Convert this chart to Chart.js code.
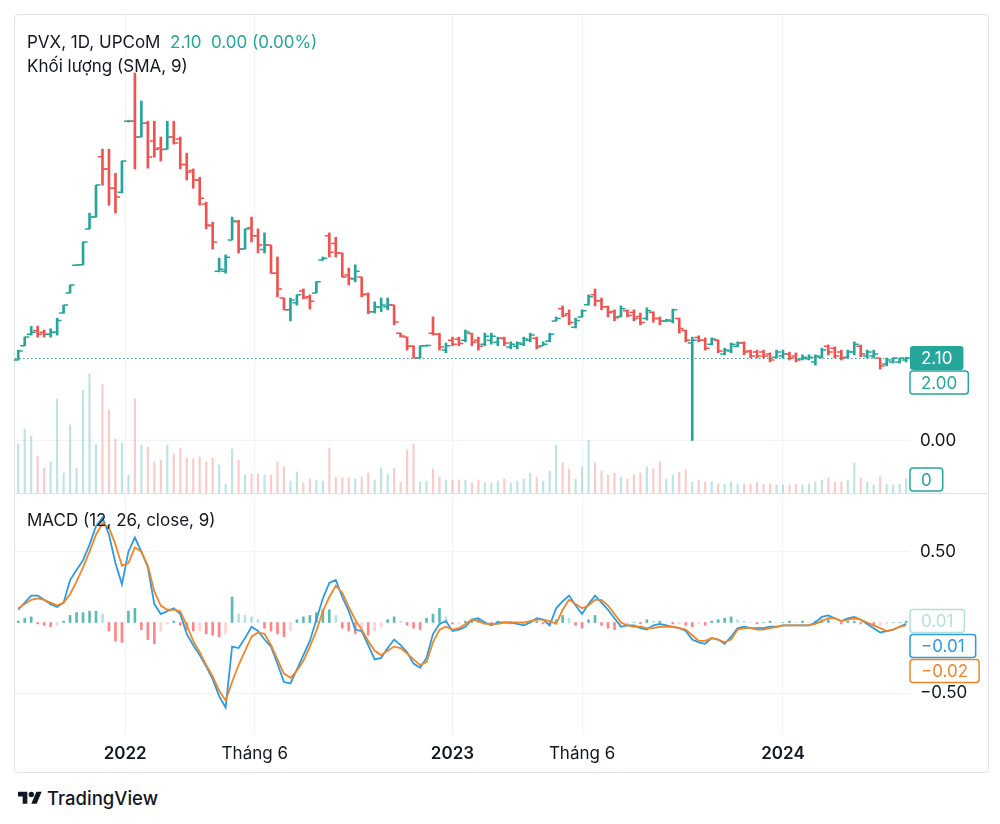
<!DOCTYPE html>
<html>
<head>
<meta charset="utf-8">
<script src="https://cdn.jsdelivr.net/npm/chart.js@4.4.1/dist/chart.umd.min.js"></script>
<style>
  body { margin: 0; background: #fff; width: 1000px; height: 824px; position: relative; overflow: hidden;
         font-family: Inter, "Noto Sans", sans-serif; color: #131722; }
  #frame { position: absolute; left: 14px; top: 14px; width: 973px; height: 757px; border: 1px solid #e0e3eb; border-radius: 4px; }
  canvas { position: absolute; left: 0; }
  #priceChart { top: 0; }
  #macdChart { top: 493px; }
  #sep { position: absolute; left: 15px; top: 493px; width: 973px; height: 1px; background: #e0e3eb; }
  .lbl { position: absolute; font-size: 17px; line-height: 20px; white-space: pre; }
  #logo { position: absolute; left: 18px; top: 787px; display: flex; align-items: center; font-size: 18.5px; font-weight: 500; }
  #logo svg { margin-right: 5px; }
</style>
</head>
<body>
<div id="frame"></div>
<canvas id="priceChart" width="1000" height="493"></canvas>
<div id="sep"></div>
<canvas id="macdChart" width="1000" height="279"></canvas>
<div class="lbl" style="left:27px;top:32px">PVX, 1D, UPCoM  <span id="lastInfo" style="color:#26a69a"></span></div>
<div class="lbl" style="left:27px;top:56px">Khối lượng (SMA, 9)</div>
<div class="lbl" style="left:27px;top:510px">MACD (12, 26, close, 9)</div>
<div id="logo">
  <svg width="24" height="19" viewBox="0 0 36 28"><path d="M14 22H7V11H0V4h14v18zM28 22h-8l7.5-18h8L28 22z" fill="#131722"/><circle cx="20" cy="8" r="4" fill="#131722"/></svg>
  TradingView
</div>
<script>
// time axis labels (bar index where each label sits)
const tickIdx  = [16.5, 36.5, 67, 87, 118];
const tickText = ['2022', 'Tháng 6', '2023', 'Tháng 6', '2024'];
const tickBold = [true, false, true, false, true];

// OHLC, one bar per period
const opens = [
  2.05,2.41,2.70,2.80,2.75,2.70,2.75,3.24,3.75,4.45,
  4.46,5.37,5.67,7.20,6.89,6.40,6.30,8.10,8.10,7.70,
  8.05,7.60,7.42,7.39,7.70,7.65,7.00,6.85,6.61,6.00,
  5.45,4.30,4.30,5.09,5.55,4.86,5.40,5.20,4.85,4.96,
  4.25,3.62,3.32,3.50,3.80,3.65,3.75,4.58,5.20,5.00,
  4.76,4.20,4.10,4.15,3.72,3.27,3.39,3.40,3.44,2.73,
  2.63,2.40,2.10,2.41,2.73,2.70,2.30,2.55,2.58,2.55,
  2.72,2.55,2.45,2.55,2.50,2.60,2.38,2.40,2.45,2.55,
  2.60,2.41,2.53,3.04,3.35,3.22,2.88,3.14,3.45,3.70,
  3.55,3.40,3.28,3.15,3.30,3.25,3.15,3.10,3.25,3.10,
  3.04,3.04,3.10,2.80,2.48,2.62,2.55,2.45,2.55,2.20,
  2.28,2.40,2.48,2.28,2.25,2.25,2.20,2.12,2.15,2.20,
  2.15,2.08,2.08,2.00,2.12,2.40,2.35,2.25,2.12,2.25,
  2.40,2.15,2.15,2.10,1.95,2.00,2.00,2.05
];
const highs = [
  2.30,2.63,2.90,2.91,2.81,2.84,3.11,3.44,3.95,4.46,
  5.04,5.77,6.48,7.39,7.39,6.78,7.09,8.12,9.32,8.61,
  8.10,8.10,7.70,8.10,8.10,7.70,7.29,6.89,6.68,6.05,
  5.54,4.63,4.71,5.67,5.59,5.37,5.67,5.37,5.27,4.96,
  4.66,3.62,3.62,3.70,3.85,3.70,4.03,4.66,5.27,5.16,
  4.76,4.38,4.46,4.15,3.75,3.52,3.62,3.62,3.44,2.73,
  2.63,2.41,2.41,2.43,3.14,2.73,2.48,2.63,2.63,2.81,
  2.73,2.63,2.73,2.73,2.63,2.63,2.51,2.51,2.63,2.73,
  2.63,2.51,2.73,3.14,3.42,3.32,3.11,3.32,3.70,3.85,
  3.62,3.42,3.32,3.42,3.32,3.32,3.24,3.37,3.27,3.14,
  3.08,3.34,3.11,2.81,2.63,2.66,2.61,2.61,2.56,2.35,
  2.48,2.51,2.51,2.30,2.30,2.30,2.23,2.30,2.30,2.25,
  2.23,2.18,2.18,2.18,2.35,2.43,2.38,2.30,2.30,2.51,
  2.43,2.30,2.30,2.10,2.10,2.10,2.10,2.12
];
const lows = [
  2.05,2.41,2.68,2.63,2.63,2.63,2.68,3.24,3.75,4.44,
  4.46,5.37,5.67,6.48,5.97,5.77,6.28,8.08,6.89,7.70,
  6.91,7.19,7.09,7.39,7.52,6.89,6.61,6.40,5.97,5.37,
  4.86,4.28,4.25,5.09,4.76,4.86,5.04,4.76,4.76,4.25,
  3.65,3.32,3.04,3.44,3.60,3.34,3.75,4.58,4.66,4.66,
  4.15,3.95,4.03,3.65,3.22,3.24,3.27,3.32,2.94,2.63,
  2.30,2.10,2.10,2.40,2.68,2.30,2.23,2.41,2.41,2.51,
  2.41,2.30,2.41,2.45,2.41,2.41,2.33,2.33,2.41,2.51,
  2.33,2.41,2.51,3.04,3.14,2.94,2.86,3.14,3.44,3.42,
  3.32,3.14,3.04,3.14,3.14,3.04,2.94,3.06,3.01,2.94,
  3.02,2.99,2.73,2.51,0.00,2.51,2.30,2.43,2.23,2.18,
  2.23,2.38,2.18,2.10,2.10,2.10,2.00,2.10,2.10,2.05,
  2.00,2.05,2.05,1.92,2.10,2.18,2.10,2.05,2.10,2.18,
  2.13,2.10,2.10,1.82,1.90,1.97,1.97,2.00
];
const closes = [
  2.28,2.63,2.75,2.70,2.70,2.75,3.05,3.44,3.95,4.46,
  5.04,5.67,6.48,6.89,6.40,6.18,7.09,8.10,7.70,8.05,
  7.19,7.39,7.38,7.70,7.55,7.00,6.81,6.61,6.15,5.47,
  5.04,4.35,4.65,5.57,4.86,5.37,5.20,4.96,4.96,4.25,
  3.85,3.32,3.57,3.70,3.62,3.54,4.03,4.63,4.78,4.76,
  4.15,4.12,4.30,3.70,3.27,3.39,3.44,3.44,3.01,2.66,
  2.40,2.10,2.41,2.42,2.70,2.38,2.41,2.45,2.47,2.76,
  2.50,2.40,2.65,2.65,2.60,2.48,2.45,2.48,2.58,2.68,
  2.38,2.45,2.70,3.10,3.18,3.00,3.05,3.30,3.65,3.55,
  3.40,3.25,3.12,3.35,3.18,3.10,3.00,3.30,3.10,3.04,
  3.06,3.32,2.85,2.55,2.55,2.55,2.35,2.58,2.28,2.30,
  2.45,2.48,2.25,2.15,2.15,2.15,2.05,2.25,2.20,2.10,
  2.05,2.12,2.12,2.15,2.30,2.25,2.15,2.10,2.25,2.45,
  2.20,2.25,2.20,1.90,2.05,2.10,2.10,2.10
];
// volume, million shares
const volumes = [
  24.5,32,28.5,18.5,12.5,15.5,47,10,34,12.5,
  51.5,59.5,24.5,54.5,41.5,27,25,9,47,24,
  23,15.5,16.5,24,19.5,22.5,17.5,17,18,15.5,
  17.5,14,4.5,22,16.5,9,9.5,9.5,9,9,
  15.5,13,6,10.5,5,7,6.5,6,22.5,8,
  7.5,7.5,7,8,10,6.5,12.5,9.5,12.5,5.5,
  21.5,24.5,5.5,6,12,8,6.5,6.5,6.5,6.5,
  5,6.5,5,5,6,7,5,6,7,10,
  8,6,11,24,15,12,7,13,26.5,15,
  11,9,10,8,7,9,10,13,12,15.5,
  7,9,10.5,11.5,5.5,6.5,5.5,5.5,4.5,4.5,
  5.5,4.5,4.5,4.5,5.5,4.5,4.5,4,4,4,
  4.5,4,4.5,5.5,6.5,7.5,5.5,5.5,6.5,15,
  7.5,5.5,4,8,4.5,4,4.5,7
];
const lastVol = 0;

// MACD (12, 26, close, 9)
const macdLine = [
  0.09,0.14,0.19,0.19,0.16,0.13,0.11,0.14,0.30,0.37,
  0.44,0.55,0.68,0.74,0.62,0.42,0.27,0.50,0.60,0.50,
  0.39,0.13,0.06,0.08,0.10,0.06,-0.08,-0.16,-0.23,-0.31,
  -0.40,-0.52,-0.60,-0.17,-0.18,-0.11,-0.03,-0.06,-0.12,-0.17,
  -0.29,-0.42,-0.43,-0.33,-0.23,-0.13,0.02,0.17,0.28,0.30,
  0.18,0.08,-0.05,-0.06,-0.16,-0.26,-0.25,-0.18,-0.12,-0.16,
  -0.21,-0.29,-0.32,-0.25,-0.08,-0.01,0.01,-0.06,-0.05,-0.03,
  0.02,0.03,0.00,-0.02,0.00,0.00,0.00,-0.01,-0.02,0.00,
  0.03,0.02,-0.02,0.10,0.15,0.19,0.12,0.06,0.13,0.19,
  0.14,0.09,0.03,-0.03,-0.02,-0.02,-0.04,-0.05,-0.02,-0.01,
  -0.02,-0.03,-0.04,-0.06,-0.12,-0.14,-0.15,-0.11,-0.12,-0.15,
  -0.10,-0.04,-0.03,-0.04,-0.04,-0.04,-0.03,-0.03,-0.02,-0.02,
  -0.02,-0.02,-0.02,0.00,0.04,0.05,0.03,0.01,0.03,0.04,
  0.02,-0.01,-0.04,-0.07,-0.06,-0.05,-0.03,-0.01
];
const signalLine = [
  0.10,0.13,0.16,0.17,0.16,0.14,0.12,0.14,0.20,0.29,
  0.39,0.50,0.62,0.70,0.67,0.55,0.40,0.42,0.53,0.50,
  0.40,0.22,0.12,0.09,0.09,0.08,-0.02,-0.13,-0.21,-0.30,
  -0.38,-0.48,-0.55,-0.42,-0.30,-0.20,-0.10,-0.07,-0.08,-0.16,
  -0.26,-0.36,-0.39,-0.34,-0.27,-0.17,-0.06,0.08,0.18,0.26,
  0.21,0.11,0.02,-0.05,-0.13,-0.20,-0.23,-0.20,-0.17,-0.18,
  -0.22,-0.26,-0.30,-0.28,-0.14,-0.05,-0.03,-0.05,-0.04,-0.01,
  0.02,0.01,-0.01,-0.01,-0.01,0.00,0.00,0.00,0.00,0.01,
  0.02,0.02,0.01,-0.01,0.09,0.16,0.13,0.10,0.12,0.16,
  0.16,0.12,0.06,0.00,-0.02,-0.03,-0.03,-0.04,-0.04,-0.03,
  -0.03,-0.03,-0.04,-0.05,-0.09,-0.13,-0.13,-0.11,-0.12,-0.14,
  -0.12,-0.05,-0.04,-0.04,-0.05,-0.05,-0.04,-0.03,-0.02,-0.02,
  -0.02,-0.02,-0.02,-0.01,0.01,0.03,0.03,0.01,0.02,0.03,
  0.02,0.00,-0.02,-0.04,-0.06,-0.05,-0.03,-0.02
];
const histogram = [
  0.01,0.03,0.04,-0.01,-0.02,-0.03,-0.02,0.01,0.05,0.07,
  0.07,0.08,0.08,0.06,-0.06,-0.13,-0.14,0.08,0.10,-0.05,
  -0.12,-0.15,-0.06,-0.01,0.01,-0.02,-0.05,-0.06,-0.06,-0.08,
  -0.09,-0.10,-0.08,0.18,0.06,0.05,0.04,0.02,-0.04,-0.06,
  -0.08,-0.10,-0.06,0.02,0.04,0.05,0.07,0.09,0.09,0.05,
  -0.04,-0.06,-0.08,-0.07,-0.09,-0.06,-0.03,0.02,0.04,0.01,
  -0.02,-0.04,-0.05,0.03,0.06,0.10,0.04,-0.01,-0.01,0.01,
  0.02,0.02,0.01,-0.01,0.01,0.00,-0.01,-0.01,-0.01,0.00,
  0.01,-0.01,-0.02,0.02,0.05,0.03,-0.02,-0.04,0.02,0.05,
  -0.02,-0.04,-0.05,-0.03,-0.01,0.00,-0.01,0.02,0.01,0.01,
  0.00,-0.01,-0.01,-0.02,-0.03,-0.01,-0.02,0.01,0.02,0.03,
  0.04,0.02,0.01,0.00,-0.01,0.00,0.01,0.00,0.00,0.01,
  0.00,0.01,0.00,0.01,0.02,0.02,0.00,-0.01,0.01,0.01,
  -0.01,-0.01,-0.02,-0.02,-0.01,0.00,0.00,0.01
];

const FONT = 'Inter, "Noto Sans", sans-serif';
const TEXT = '#131722';
const GRID = '#f0f3fa';
const UP = '#26a69a', DOWN = '#ef5350';
const VOL_UP = 'rgba(38,166,154,0.3)', VOL_DOWN = 'rgba(239,83,80,0.3)';
const BLUE = '#2d9be0', ORANGE = '#f0862a';
const last = closes.length - 1;
const isUp = i => closes[i] >= opens[i];

const chg = closes[last] - closes[last - 1];
document.getElementById('lastInfo').textContent =
  closes[last].toFixed(2) + '  ' + Math.abs(chg).toFixed(2) + ' (' + Math.abs(chg / closes[last - 1] * 100).toFixed(2) + '%)';

function fmt(v) {
  const s = Math.abs(v).toFixed(2);
  return v < 0 && s !== '0.00' ? '\u2212' + s : s;
}

function drawTag(ctx, x, top, h, text, fill, stroke, color) {
  ctx.font = '17px ' + FONT;
  const w = ctx.measureText(text).width + 22;
  ctx.beginPath();
  ctx.roundRect(x, top, w, h, 3);
  ctx.fillStyle = fill;
  ctx.fill();
  if (stroke) { ctx.lineWidth = 1.5; ctx.strokeStyle = stroke; ctx.stroke(); }
  ctx.fillStyle = color;
  ctx.textAlign = 'left';
  ctx.textBaseline = 'middle';
  ctx.fillText(text, x + 11, top + h / 2 + 1);
}

// right price scales: fixed width, no extra padding for end labels
const fitRight = s => { s.width = 78; s.paddingTop = 0; s.paddingBottom = 0; };

function timeAxis(showLabels) {
  return {
    type: 'linear', min: -0.5, max: 137.6, offset: false,
    afterBuildTicks: s => { s.ticks = tickIdx.map(v => ({ value: v })); },
    afterFit: s => { s.height = showLabels ? 37 : 0; s.paddingLeft = 0; s.paddingRight = 0; },
    grid: { color: GRID, drawTicks: false, offset: false },
    border: { display: false },
    ticks: {
      display: showLabels, autoSkip: false, maxRotation: 0, padding: 9, color: TEXT,
      font: c => ({ family: FONT, size: 17, weight: tickBold[c.index] ? '600' : '400' }),
      callback: (v, i) => tickText[i]
    }
  };
}

// open/close ticks + last price line
const ohlcTicks = {
  id: 'ohlcTicks',
  afterDatasetsDraw(chart) {
    const { ctx, chartArea, scales: { x, y } } = chart;
    ctx.save();
    ctx.setLineDash([1.5, 2.5]);
    ctx.lineWidth = 1.2;
    ctx.strokeStyle = UP;
    const yl = Math.round(y.getPixelForValue(closes[last])) + 0.5;
    ctx.beginPath();
    ctx.moveTo(chartArea.left, yl);
    ctx.lineTo(chartArea.right, yl);
    ctx.stroke();
    ctx.setLineDash([]);
    ctx.lineWidth = 1.5;
    for (let i = 0; i < opens.length; i++) {
      const px = x.getPixelForValue(i);
      const yo = y.getPixelForValue(opens[i]);
      const yc = y.getPixelForValue(closes[i]);
      ctx.strokeStyle = isUp(i) ? UP : DOWN;
      ctx.beginPath();
      ctx.moveTo(px - 4.5, yo); ctx.lineTo(px, yo);
      ctx.moveTo(px, yc); ctx.lineTo(px + 4.5, yc);
      ctx.stroke();
    }
    ctx.restore();
  },
  afterDraw(chart) {
    const { ctx, chartArea, scales: { y, vol } } = chart;
    ctx.save();
    const yc = y.getPixelForValue(closes[last]);
    drawTag(ctx, chartArea.right, yc - 12, 24, closes[last].toFixed(2), UP, null, '#fff');
    drawTag(ctx, chartArea.right, yc + 13, 23, lows[last].toFixed(2), '#fff', UP, UP);
    drawTag(ctx, chartArea.right, vol.getPixelForValue(0) - 25, 23, String(lastVol), '#fff', UP, UP);
    ctx.restore();
  }
};

new Chart(document.getElementById('priceChart'), {
  type: 'bar',
  data: {
    datasets: [
      {
        label: 'PVX', yAxisID: 'y', order: 0, grouped: false, barThickness: 2,
        data: highs.map((h, i) => ({ x: i, y: [lows[i], h] })),
        backgroundColor: c => isUp(c.dataIndex) ? UP : DOWN
      },
      {
        label: 'Khối lượng', yAxisID: 'vol', order: 1, grouped: false, barThickness: 1.5,
        data: volumes.map((v, i) => ({ x: i, y: v })),
        backgroundColor: c => isUp(c.dataIndex) ? VOL_UP : VOL_DOWN
      }
    ]
  },
  options: {
    responsive: false, animation: false, devicePixelRatio: 1, events: [],
    layout: { padding: { left: 15, top: 15, right: 12, bottom: 0 } },
    plugins: { legend: { display: false }, tooltip: { enabled: false } },
    scales: {
      x: timeAxis(false),
      y: {
        position: 'right', min: -1.32, max: 10.79,
        afterFit: fitRight,
        afterBuildTicks: s => { s.ticks = [{ value: 0 }]; },
        grid: { color: GRID, drawTicks: false },
        border: { display: false },
        ticks: { padding: 10, color: TEXT, font: { family: FONT, size: 17 }, callback: v => v.toFixed(2) }
      },
      vol: { display: false, min: 0, max: 239 }
    }
  },
  plugins: [ohlcTicks]
});

const histColor = c => {
  const i = c.dataIndex, v = histogram[i], p = i > 0 ? histogram[i - 1] : 0;
  if (v >= 0) return v >= p ? 'rgba(38,166,154,0.75)' : 'rgba(178,223,219,0.95)';
  return v < p ? 'rgba(255,82,82,0.7)' : 'rgba(255,205,210,0.95)';
};

const macdTags = {
  id: 'macdTags',
  afterDraw(chart) {
    const { ctx, chartArea, scales: { m } } = chart;
    const tags = [
      { v: histogram[last], stroke: '#b2dfdb', color: '#b2dfdb' },
      { v: macdLine[last], stroke: BLUE, color: BLUE },
      { v: signalLine[last], stroke: ORANGE, color: ORANGE }
    ].map(t => ({ ...t, py: m.getPixelForValue(t.v) })).sort((a, b) => a.py - b.py);
    ctx.save();
    let prevBottom = -Infinity;
    tags.forEach(t => {
      const top = Math.max(t.py - 11.5, prevBottom + 2);
      drawTag(ctx, chartArea.right, top, 23, fmt(t.v), '#fff', t.stroke, t.color);
      prevBottom = top + 23;
    });
    ctx.restore();
  }
};

new Chart(document.getElementById('macdChart'), {
  type: 'bar',
  data: {
    datasets: [
      {
        type: 'line', label: 'Signal', yAxisID: 'm', order: 0,
        data: signalLine.map((v, i) => ({ x: i, y: v })),
        borderColor: ORANGE, borderWidth: 1.8, pointRadius: 0, tension: 0
      },
      {
        type: 'line', label: 'MACD', yAxisID: 'm', order: 1,
        data: macdLine.map((v, i) => ({ x: i, y: v })),
        borderColor: BLUE, borderWidth: 1.8, pointRadius: 0, tension: 0
      },
      {
        label: 'Histogram', yAxisID: 'm', order: 2, grouped: false, barThickness: 2,
        data: histogram.map((v, i) => ({ x: i, y: v })),
        backgroundColor: histColor
      }
    ]
  },
  options: {
    responsive: false, animation: false, devicePixelRatio: 1, events: [],
    layout: { padding: { left: 15, top: 4, right: 12, bottom: 0 } },
    plugins: { legend: { display: false }, tooltip: { enabled: false } },
    scales: {
      x: timeAxis(true),
      m: {
        position: 'right', min: -0.794, max: 0.886,
        afterFit: fitRight,
        afterBuildTicks: s => { s.ticks = [{ value: -0.5 }, { value: 0.5 }]; },
        grid: { color: GRID, drawTicks: false },
        border: { display: false },
        ticks: { padding: 10, color: TEXT, font: { family: FONT, size: 17 }, callback: v => fmt(v) }
      }
    }
  },
  plugins: [macdTags]
});
</script>
</body>
</html>
